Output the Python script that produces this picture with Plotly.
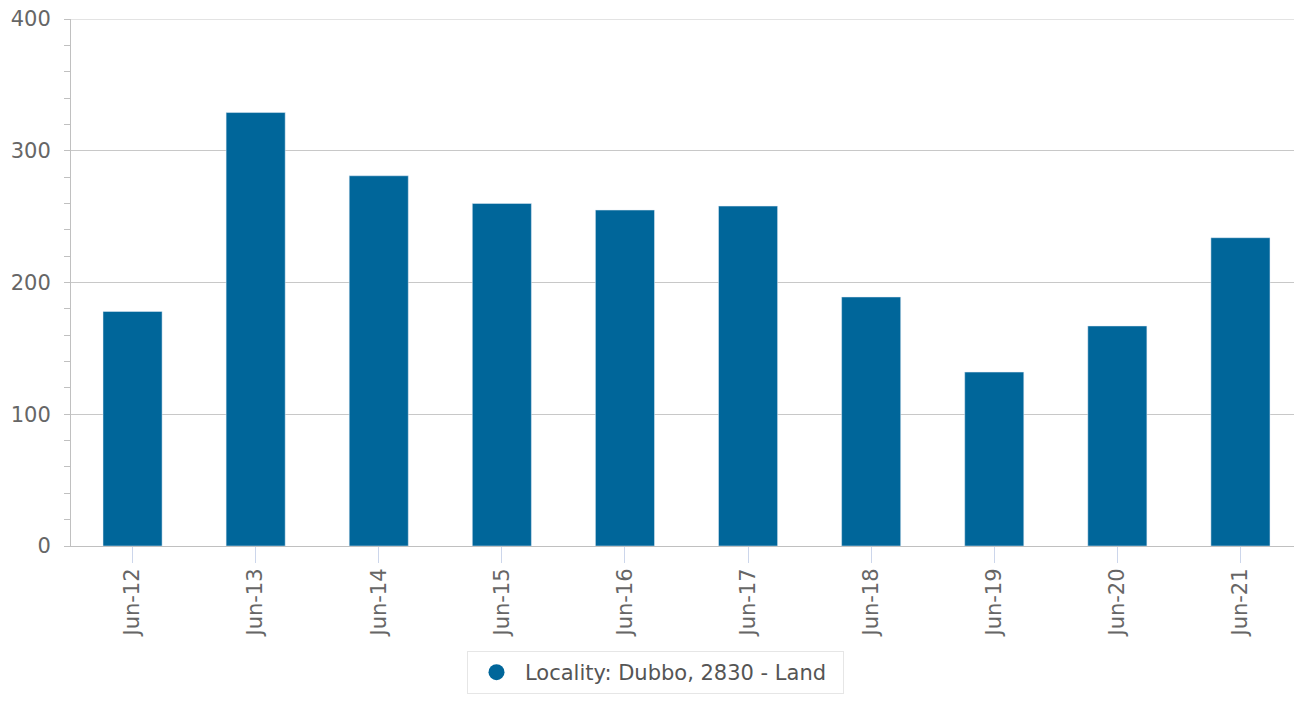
import plotly.graph_objects as go

categories = ["Jun-12", "Jun-13", "Jun-14", "Jun-15", "Jun-16",
              "Jun-17", "Jun-18", "Jun-19", "Jun-20", "Jun-21"]
values = [178, 329, 281, 260, 255, 258, 189, 132, 167, 234]
y_ticks = [0, 100, 200, 300, 400]
series_name = "Locality: Dubbo, 2830 - Land"
bar_color = "#00669a"
grid_color = "#c8c8c8"

W, H = 1294, 696  # page body has an 8px margin

fig = go.Figure()
fig.add_trace(go.Bar(x=categories, y=values, marker_color=bar_color,
                     showlegend=False, name=series_name))
fig.add_trace(go.Scatter(x=[None], y=[None], mode="markers", name=series_name,
                         marker=dict(symbol="circle", size=20, color=bar_color)))

# top gridline (plotly drops the grid line sitting on the range edge)
fig.add_shape(type="line", xref="paper", x0=0, x1=1, yref="y",
              y0=y_ticks[-1], y1=y_ticks[-1], layer="below",
              line=dict(color=grid_color, width=1))

fig.update_layout(
    width=W, height=H,
    margin=dict(l=63, r=0, t=11, b=158, autoexpand=False),
    plot_bgcolor="white", paper_bgcolor="white",
    bargap=0.52,
    font=dict(family="DejaVu Sans", size=21, color="#666666"),
    showlegend=True,
    legend=dict(orientation="h", xref="container", x=459 / W, xanchor="left",
                yref="container", y=(H - 643) / H, yanchor="top",
                bordercolor="#e6e6e6", borderwidth=1, itemsizing="trace",
                itemwidth=47, entrywidth=313,
                font=dict(size=21, color="#555555")),
)
fig.update_xaxes(type="category", showline=True, linecolor="#c0c0c0", linewidth=1,
                 ticks="outside", ticklen=16, tickcolor="#ccd6eb", tickwidth=1,
                 tickangle=-90, showgrid=False, automargin=False,
                 ticklabelstandoff=-3,
                 tickfont=dict(size=21, color="#666666"))
fig.update_yaxes(range=[y_ticks[0], y_ticks[-1]], tickvals=y_ticks,
                 showline=True, linecolor="#c0c0c0",
                 linewidth=1, ticks="outside", ticklen=6, tickcolor="#c0c0c0",
                 showgrid=True, gridcolor=grid_color, gridwidth=1, zeroline=False,
                 automargin=False, ticklabeloverflow="allow", ticklabelstandoff=9,
                 minor=dict(dtick=20, ticks="outside", ticklen=6, tickcolor="#c0c0c0",
                            showgrid=False),
                 tickfont=dict(size=21, color="#666666"))

fig.write_html("out.html")
